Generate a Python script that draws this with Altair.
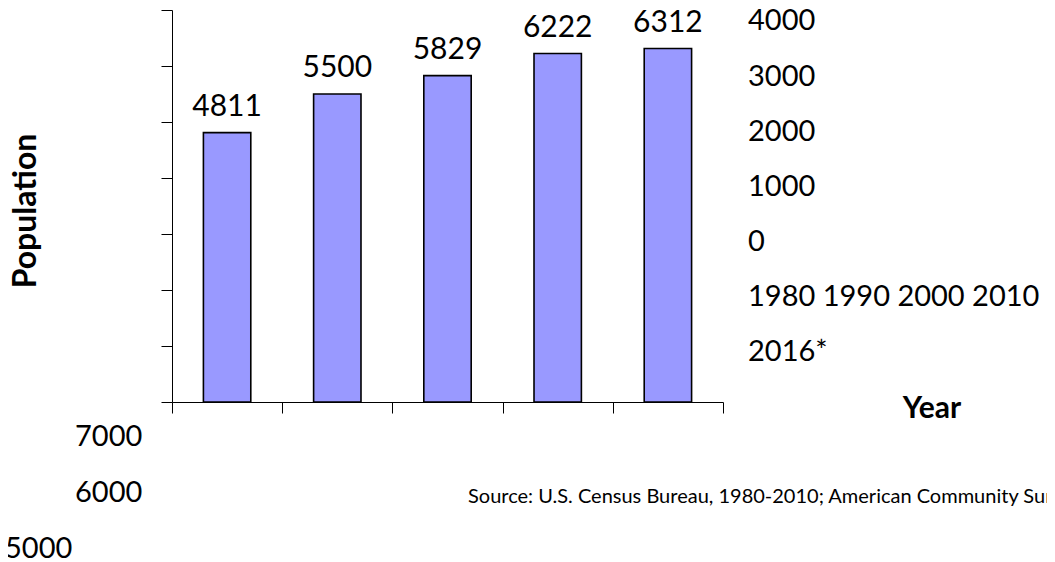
import altair as alt
import pandas as pd

# ---- data ----
years = ["1980", "1990", "2000", "2010", "2016*"]
population = [4811, 5500, 5829, 6222, 6312]
y_tick_labels = ["0", "1000", "2000", "3000", "4000", "5000", "6000", "7000"]
y_tick_values = [0, 1000, 2000, 3000, 4000, 5000, 6000, 7000]
source_text = "Source: U.S. Census Bureau, 1980-2010; American Community Survey, 2012-2016"

FONT = "Lato"
W, H = 551, 392

df = pd.DataFrame({"year": years, "pop": population})

base = alt.Chart(df).encode(
    x=alt.X(
        "year:N",
        sort=years,
        scale=alt.Scale(paddingInner=0, paddingOuter=0),
        axis=alt.Axis(
            labels=False, title=None, tickBand="extent", tickSize=11,
            tickColor="black", domainColor="black", tickWidth=1, domainWidth=1,
        ),
    ),
    y=alt.Y(
        "pop:Q",
        scale=alt.Scale(domain=[0, 7000], nice=False),
        axis=alt.Axis(
            values=y_tick_values, labels=False, title=None, grid=False,
            tickSize=11, tickColor="black", domainColor="black",
            tickWidth=1, domainWidth=1,
        ),
    ),
)

bars = base.mark_bar(
    width=alt.RelativeBandSize(0.43), color="#9999FF", stroke="black", strokeWidth=1.6
)
values = base.mark_text(
    font=FONT, fontSize=30, baseline="alphabetic", align="center", dy=-17, color="black"
).encode(text=alt.Text("pop:Q", format="d"))


def label(txt, x, y, size=29, bold=False, angle=0, align="left"):
    kw = dict(font=FONT, fontSize=size, baseline="alphabetic", align=align, color="black")
    if bold:
        kw["fontWeight"] = "bold"
    if angle:
        kw["angle"] = angle
    return alt.Chart(pd.DataFrame({"t": [txt]})).mark_text(**kw).encode(
        x=alt.value(x), y=alt.value(y), text="t:N"
    )


OX, OY = 172, 10  # plot origin in page coordinates
layers = [bars, values]
# misplaced y tick labels, as in the reference
right_col = ["4000", "3000", "2000", "1000", "0"]
right_base = [30, 86, 141, 196, 251]
for t, b in zip(right_col, right_base):
    layers.append(label(t, 748 - OX, b - OY))
layers.append(label(" ".join(years[:4]), 748 - OX, 306 - OY))
layers.append(label(years[4], 748 - OX, 361 - OY))
layers.append(label("7000", 75 - OX, 446 - OY))
layers.append(label("6000", 75 - OX, 502 - OY))
layers.append(label("5000", 5 - OX, 558 - OY))
# titles
layers.append(label("Year", 932 - OX, 418 - OY, size=30, bold=True, align="center"))
layers.append(label("Population", 36 - OX, 211 - OY, size=32, bold=True, angle=270, align="center"))
layers.append(label(source_text, 468 - OX, 503 - OY, size=20))

chart = alt.layer(*layers).properties(
    width=W,
    height=H,
    autosize=alt.AutoSizeParams(type="none"),
    padding={"left": OX - 8, "top": OY - 8, "right": 1039 - (OX - 8) - W, "bottom": 552 - (OY - 8) - H},
    background="white",
).configure_view(stroke=None)

chart.save("out.html", embed_options={"renderer": "svg", "actions": False})
